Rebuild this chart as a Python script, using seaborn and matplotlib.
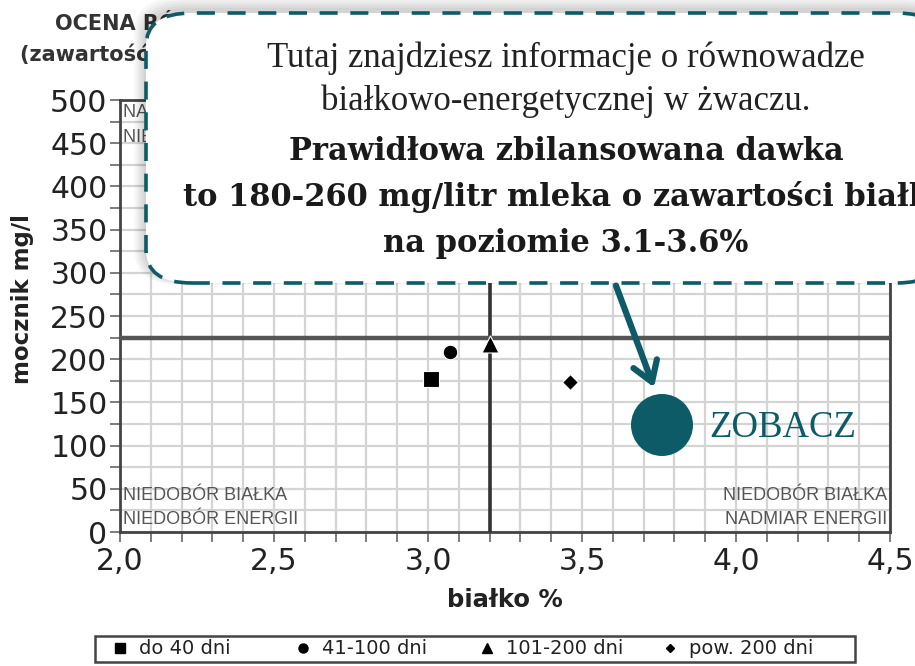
import matplotlib
matplotlib.use("Agg")
import matplotlib.pyplot as plt
from matplotlib.patches import FancyBboxPatch, Ellipse, FancyArrowPatch, Rectangle
from matplotlib.ticker import MultipleLocator, FuncFormatter
from matplotlib.lines import Line2D
import pandas as pd
import seaborn as sns

# data
groups = ["do 40 dni", "41-100 dni", "101-200 dni", "pow. 200 dni"]
protein = [3.01, 3.07, 3.20, 3.46]
urea = [177, 208, 218, 174]
marker_map = {"do 40 dni": "s", "41-100 dni": "o", "101-200 dni": "^", "pow. 200 dni": "D"}
marker_size = {"do 40 dni": 140, "41-100 dni": 110, "101-200 dni": 150, "pow. 200 dni": 65}
x_ref = 3.2
y_ref = 225

df = pd.DataFrame({"bialko": protein, "mocznik": urea, "grupa": groups})

sns.set_style("white")
plt.rcParams["font.family"] = ["DejaVu Sans"]

fig = plt.figure(figsize=(9.15, 6.66), dpi=100)
ax = fig.add_axes([120 / 915, 1 - 532 / 666, 770 / 915, 432 / 666])

for g in groups:
    sub = df[df["grupa"] == g]
    sns.scatterplot(data=sub, x="bialko", y="mocznik", marker=marker_map[g],
                    s=marker_size[g], color="black", edgecolor="white",
                    linewidth=0.8, ax=ax, zorder=5, legend=False)

ax.set_xlim(2.0, 4.5)
ax.set_ylim(0, 500)
ax.xaxis.set_major_locator(MultipleLocator(0.5))
ax.xaxis.set_minor_locator(MultipleLocator(0.1))
ax.yaxis.set_major_locator(MultipleLocator(50))
ax.yaxis.set_minor_locator(MultipleLocator(25))
ax.xaxis.set_major_formatter(FuncFormatter(lambda v, p: f"{v:.1f}".replace(".", ",")))
ax.grid(True, which="both", color="#d4d4d4", linewidth=1.6, zorder=0)
ax.set_axisbelow(True)
ax.tick_params(axis="both", which="both", direction="out", length=7, width=1.2,
               color="#666", labelsize=21.5, labelcolor="#222", bottom=True, left=True)
ax.tick_params(axis="y", pad=2)
for sp in ax.spines.values():
    sp.set_color("#444")
    sp.set_linewidth(2)

ax.axvline(x_ref, color="#333", linewidth=2.6, zorder=3)
ax.axhline(y_ref, color="#555", linewidth=3.2, zorder=3)

ax.set_xlabel("białko %", fontsize=17.5, fontweight="bold", color="#222")
ax.xaxis.set_label_coords(0.5, -(600 - 532) / 432, transform=ax.transAxes)
ax.set_ylabel("mocznik mg/l", fontsize=16.5, fontweight="bold", color="#222")
ax.yaxis.set_label_coords(-(120 - 23) / 770, (532 - 299) / 432, transform=ax.transAxes)
ax.xaxis.label.set_va("center")
ax.yaxis.label.set_va("center")

qfont = dict(fontsize=13, color="#555", family=["Liberation Sans"], zorder=4)
ax.text(2.01, 42, "NIEDOBÓR BIAŁKA", ha="left", va="center", **qfont)
ax.text(2.01, 14, "NIEDOBÓR ENERGII", ha="left", va="center", **qfont)
ax.text(4.49, 42, "NIEDOBÓR BIAŁKA", ha="right", va="center", **qfont)
ax.text(4.49, 14, "NADMIAR ENERGII", ha="right", va="center", **qfont)
ax.text(2.01, 486, "NADMIAR BIAŁKA", ha="left", va="center", **qfont)
ax.text(2.01, 457, "NIEDOBÓR ENERGII", ha="left", va="center", **qfont)

# title (mostly hidden by the callout)
fig.text(55 / 915, 1 - 22 / 666, "OCENA RÓWNOWAGI BIAŁKOWO-ENERGETYCZNEJ",
         fontsize=15, fontweight="bold", color="#333", ha="left", va="center")
fig.text(20 / 915, 1 - 55 / 666, "(zawartość mocznika w mleku)",
         fontsize=15, fontweight="bold", color="#333", ha="left", va="center")

# legend: one entry per slot, evenly spaced inside a framed box
leg_y = 1 - 649 / 666
fig.patches.append(Rectangle((95 / 915, 1 - 662 / 666), 760 / 915, 26 / 666,
                             transform=fig.transFigure, facecolor="white",
                             edgecolor="#444", linewidth=1.8, zorder=2))
slot_x = [110, 293, 477, 660]
hsize = {"s": 7, "o": 6.5, "^": 7, "D": 4.5}
for g, sx in zip(groups, slot_x):
    h = Line2D([], [], marker=marker_map[g], color="black", linestyle="none",
               markersize=hsize[marker_map[g]])
    lg = fig.legend([h], [g], loc="center left", bbox_to_anchor=(sx / 915, leg_y),
                    frameon=False, fontsize=14, handletextpad=0.5, borderpad=0,
                    handlelength=1.0, borderaxespad=0)
    lg.set_zorder(3)
    for t in lg.get_texts():
        t.set_color("#222")

# callout box
teal = "#0d5b66"
bx0, by0, bx1, by1 = 146 / 915, 1 - 283 / 666, 1.03, 1 - 13 / 666
for i in range(5):
    off = (5 - i) * 0.0025
    fig.patches.append(FancyBboxPatch((bx0 - off, by0 + 0.004 - off * 0.5), bx1 - bx0 + 2 * off,
                                      by1 - by0 + 2 * off,
                                      boxstyle="round,pad=0,rounding_size=0.05",
                                      transform=fig.transFigure, facecolor="black",
                                      edgecolor="none", alpha=0.035, zorder=10))
fig.patches.append(FancyBboxPatch((bx0, by0), bx1 - bx0, by1 - by0,
                                  boxstyle="round,pad=0,rounding_size=0.05",
                                  transform=fig.transFigure, facecolor="white",
                                  edgecolor=teal, linewidth=2.6,
                                  linestyle=(0, (5, 3.5)), zorder=11))

cx = 566 / 915
light = dict(fontsize=25, color="#222", family=["Liberation Serif"], ha="center",
             va="center", zorder=12)
bold = dict(fontsize=22, color="#1a1a1a", family=["DejaVu Serif"], fontweight="bold",
            ha="center", va="center", zorder=12)
fig.text(cx, 1 - 58 / 666, "Tutaj znajdziesz informacje o równowadze", **light)
fig.text(cx, 1 - 101 / 666, "białkowo-energetycznej w żwaczu.", **light)
fig.text(cx, 1 - 152 / 666, "Prawidłowa zbilansowana dawka", **bold)
fig.text(cx, 1 - 197 / 666, "to 180-260 mg/litr mleka o zawartości białka", **bold)
fig.text(cx, 1 - 243 / 666, "na poziomie 3.1-3.6%", **bold)

# arrow and "ZOBACZ" button
fig.add_artist(FancyArrowPatch(
    (615 / 915, 1 - 283 / 666), (655 / 915, 1 - 390 / 666),
    transform=fig.transFigure, arrowstyle="->,head_length=0.7,head_width=0.45",
    color=teal, linewidth=4.5, mutation_scale=20, zorder=12))
fig.add_artist(Ellipse((662 / 915, 1 - 425 / 666), 62 / 915, 62 / 666,
                       transform=fig.transFigure, facecolor=teal, edgecolor="none",
                       zorder=12))
fig.text(709 / 915, 1 - 428 / 666, "ZOBACZ", fontsize=26.5, color=teal,
         family=["Liberation Serif"], ha="left", va="center", zorder=12)

fig.savefig("out.png", dpi=100)
